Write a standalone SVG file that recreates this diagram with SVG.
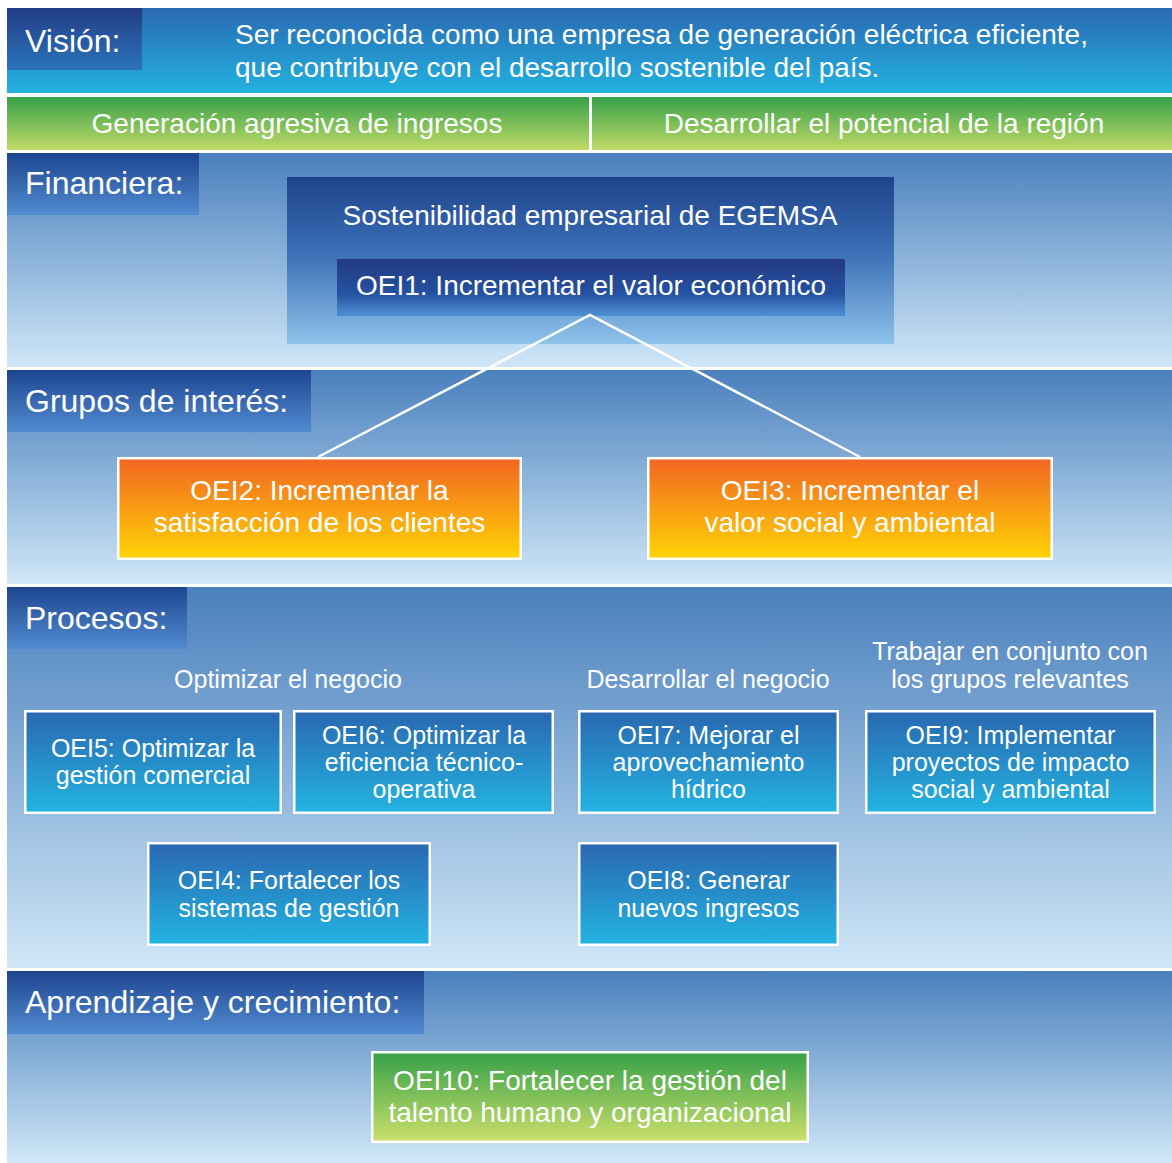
<svg xmlns="http://www.w3.org/2000/svg" width="1172" height="1163" viewBox="0 0 1172 1163">
<defs>
<linearGradient id="gVision" x1="0" y1="0" x2="0" y2="1"><stop offset="0" stop-color="#2a69b2"/><stop offset="1" stop-color="#22b2e0"/></linearGradient>
<linearGradient id="gVisionLbl" x1="0" y1="0" x2="0" y2="1"><stop offset="0" stop-color="#223d86"/><stop offset="1" stop-color="#2b74bb"/></linearGradient>
<linearGradient id="gGreen" x1="0" y1="0" x2="0" y2="1"><stop offset="0" stop-color="#37a14a"/><stop offset="1" stop-color="#c0da66"/></linearGradient>
<linearGradient id="gSection" x1="0" y1="0" x2="0" y2="1"><stop offset="0" stop-color="#4a80bd"/><stop offset="1" stop-color="#d0e7f8"/></linearGradient>
<linearGradient id="gLabel" x1="0" y1="0" x2="0" y2="1"><stop offset="0" stop-color="#1d4590"/><stop offset="1" stop-color="#528cd0"/></linearGradient>
<linearGradient id="gSost" x1="0" y1="0" x2="0" y2="1"><stop offset="0" stop-color="#1f438b"/><stop offset="0.45" stop-color="#3a6fb6"/><stop offset="1" stop-color="#8fc2e9"/></linearGradient>
<linearGradient id="gOei1" x1="0" y1="0" x2="0" y2="1"><stop offset="0" stop-color="#253a82"/><stop offset="0.6" stop-color="#2451a0"/><stop offset="1" stop-color="#4f90d4"/></linearGradient>
<linearGradient id="gOrange" x1="0" y1="0" x2="0" y2="1"><stop offset="0" stop-color="#f26522"/><stop offset="1" stop-color="#ffd405"/></linearGradient>
<linearGradient id="gBlue" x1="0" y1="0" x2="0" y2="1"><stop offset="0" stop-color="#2a67b1"/><stop offset="1" stop-color="#23b4e1"/></linearGradient>
<linearGradient id="gGreenBox" x1="0" y1="0" x2="0" y2="1"><stop offset="0" stop-color="#36a048"/><stop offset="1" stop-color="#cbe06b"/></linearGradient>
</defs>
<style>
text { font-family: "Liberation Sans", Arial, Helvetica, sans-serif; fill: #ffffff; }
.lbl { font-size: 32px; }
.t28 { font-size: 28px; text-anchor: middle; }
.t25 { font-size: 25px; text-anchor: middle; }
.box { stroke: #ffffff; stroke-width: 2.5; }
.conn { stroke: #ffffff; stroke-width: 2.5; fill: none; }
</style>
<rect x="0" y="0" width="1172" height="1163" fill="#ffffff"/>

<g id="vision">
<rect x="7" y="8" width="1165" height="85" fill="url(#gVision)"/>
<rect x="7" y="8" width="135" height="62" fill="url(#gVisionLbl)"/>
<text class="lbl" x="25" y="52">Visión:</text>
<text x="235" y="44" style="font-size:28px">Ser reconocida como una empresa de generación eléctrica eficiente,</text>
<text x="235" y="77" style="font-size:28px">que contribuye con el desarrollo sostenible del país.</text>
</g>

<g id="tema-ingresos">
<rect x="7" y="97" width="582" height="53" fill="url(#gGreen)"/>
<text class="t28" x="297" y="133">Generación agresiva de ingresos</text>
</g>
<g id="tema-region">
<rect x="592" y="97" width="580" height="53" fill="url(#gGreen)"/>
<text class="t28" x="884" y="133">Desarrollar el potencial de la región</text>
</g>

<g id="sec-financiera">
<rect x="7" y="153" width="1165" height="214" fill="url(#gSection)"/>
<rect x="7" y="153" width="192" height="62" fill="url(#gLabel)"/>
<text class="lbl" x="25" y="194">Financiera:</text>
</g>
<g id="sec-grupos">
<rect x="7" y="370" width="1165" height="214" fill="url(#gSection)"/>
<rect x="7" y="370" width="304" height="62" fill="url(#gLabel)"/>
<text class="lbl" x="25" y="412">Grupos de interés:</text>
</g>
<g id="sec-procesos">
<rect x="7" y="587" width="1165" height="381" fill="url(#gSection)"/>
<rect x="7" y="587" width="180" height="62" fill="url(#gLabel)"/>
<text class="lbl" x="25" y="629">Procesos:</text>
<text class="t25" x="288" y="688">Optimizar el negocio</text>
<text class="t25" x="708" y="688">Desarrollar el negocio</text>
<text class="t25" x="1010" y="660">Trabajar en conjunto con</text>
<text class="t25" x="1010" y="688">los grupos relevantes</text>
</g>
<g id="sec-aprendizaje">
<rect x="7" y="971" width="1165" height="192" fill="url(#gSection)"/>
<rect x="7" y="971" width="417" height="63" fill="url(#gLabel)"/>
<text class="lbl" x="25" y="1013">Aprendizaje y crecimiento:</text>
</g>

<g id="sostenibilidad">
<rect x="287" y="177" width="607" height="167" fill="url(#gSost)"/>
<text class="t28" x="590" y="225">Sostenibilidad empresarial de EGEMSA</text>
</g>
<g id="oei1">
<rect x="337" y="259" width="508" height="57" fill="url(#gOei1)"/>
<text class="t28" x="591" y="295">OEI1: Incrementar el valor económico</text>
</g>

<g id="connectors">
<polyline class="conn" points="318,457 590,315 860,457"/>
</g>

<g id="oei2">
<rect class="box" x="118.25" y="458.25" width="402.5" height="100.5" fill="url(#gOrange)"/>
<text class="t28" x="319.5" y="500">OEI2: Incrementar la</text>
<text class="t28" x="319.5" y="532">satisfacción de los clientes</text>
</g>
<g id="oei3">
<rect class="box" x="648.25" y="458.25" width="403.5" height="100.5" fill="url(#gOrange)"/>
<text class="t28" x="850" y="500">OEI3: Incrementar el</text>
<text class="t28" x="850" y="532">valor social y ambiental</text>
</g>

<g id="oei5">
<rect class="box" x="25.25" y="711.25" width="255.5" height="101.5" fill="url(#gBlue)"/>
<text class="t25" x="153" y="757">OEI5: Optimizar la</text>
<text class="t25" x="153" y="784">gestión comercial</text>
</g>
<g id="oei6">
<rect class="box" x="294.25" y="711.25" width="258.5" height="101.5" fill="url(#gBlue)"/>
<text class="t25" x="424" y="744">OEI6: Optimizar la</text>
<text class="t25" x="424" y="771">eficiencia técnico-</text>
<text class="t25" x="424" y="798">operativa</text>
</g>
<g id="oei7">
<rect class="box" x="579.25" y="711.25" width="258.5" height="101.5" fill="url(#gBlue)"/>
<text class="t25" x="708.5" y="744">OEI7: Mejorar el</text>
<text class="t25" x="708.5" y="771">aprovechamiento</text>
<text class="t25" x="708.5" y="798">hídrico</text>
</g>
<g id="oei9">
<rect class="box" x="866.25" y="711.25" width="288.5" height="101.5" fill="url(#gBlue)"/>
<text class="t25" x="1010.5" y="744">OEI9: Implementar</text>
<text class="t25" x="1010.5" y="771">proyectos de impacto</text>
<text class="t25" x="1010.5" y="798">social y ambiental</text>
</g>
<g id="oei4">
<rect class="box" x="148.25" y="843.25" width="281.5" height="101.5" fill="url(#gBlue)"/>
<text class="t25" x="289" y="889">OEI4: Fortalecer los</text>
<text class="t25" x="289" y="917">sistemas de gestión</text>
</g>
<g id="oei8">
<rect class="box" x="579.25" y="843.25" width="258.5" height="101.5" fill="url(#gBlue)"/>
<text class="t25" x="708.5" y="889">OEI8: Generar</text>
<text class="t25" x="708.5" y="917">nuevos ingresos</text>
</g>

<g id="oei10">
<rect class="box" x="372.25" y="1052.25" width="435.5" height="89.5" fill="url(#gGreenBox)"/>
<text class="t28" x="590" y="1090">OEI10: Fortalecer la gestión del</text>
<text class="t28" x="590" y="1122">talento humano y organizacional</text>
</g>
</svg>
